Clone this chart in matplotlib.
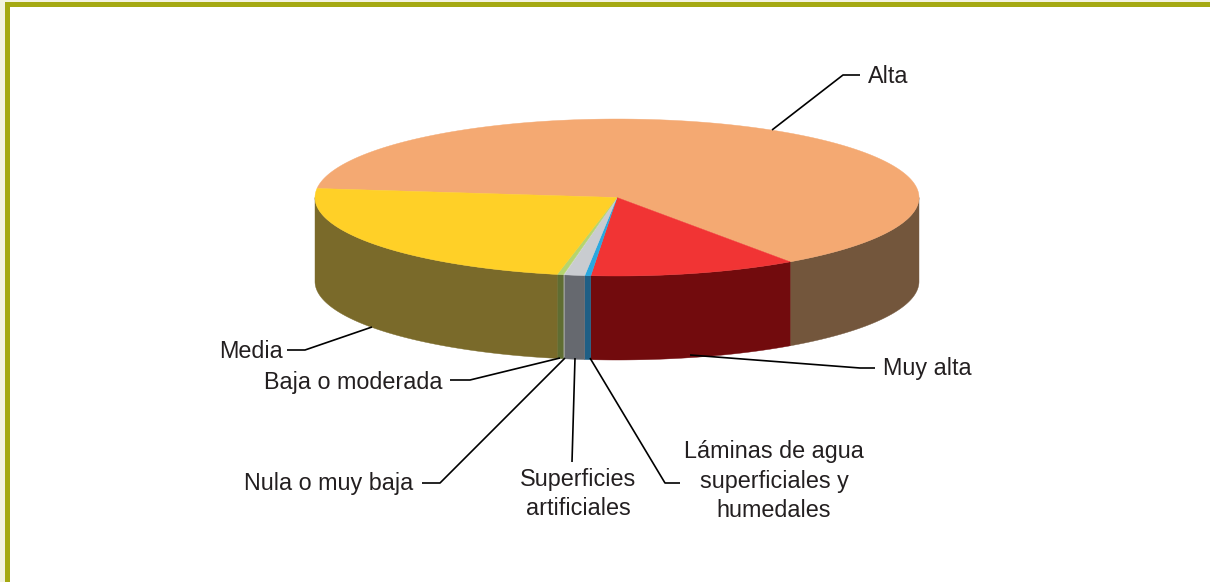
import numpy as np
import matplotlib
matplotlib.use("Agg")
import matplotlib.pyplot as plt
from matplotlib.patches import Polygon, Rectangle

plt.rcParams['font.family'] = ['Liberation Sans', 'DejaVu Sans']

# Clockwise from the Alta slice's end at the left of the pie
categories = ["Alta", "Muy alta", "Láminas de agua superficiales y humedales",
              "Superficies artificiales", "Nula o muy baja", "Baja o moderada", "Media"]
shares = [63.45, 11.10, 0.32, 1.09, 0.05, 0.33, 23.66]
top_colors = ["#f4a972", "#f13434", "#29a8e0", "#c9ccd0", "#d5d8d0", "#b5d56e", "#ffd027"]
side_colors = ["#73563c", "#720b0d", "#1f5f85", "#66696f", "#a8aba4", "#5f6d32", "#7a6a2a"]

CX, CY, RX, RY, DEPTH = 617, 197.5, 302, 78.5, 84
START = 173.4

fig = plt.figure(figsize=(12.10, 5.82), dpi=100)
ax = fig.add_axes([0, 0, 1, 1])
ax.set_xlim(0, 1210)
ax.set_ylim(582, 0)
ax.axis("off")

# Page frame
ax.add_patch(Rectangle((0, 0), 1210, 582, fc="#f3f3e0", ec="none", zorder=0))
ax.add_patch(Rectangle((5, 2), 1205, 580, fc="#a5a912", ec="none", zorder=0.1))
ax.add_patch(Rectangle((10, 7), 1200, 575, fc="white", ec="none", zorder=0.2))


def rim(t):
    r = np.radians(t)
    return CX + RX * np.cos(r), CY - RY * np.sin(r)


angles = START - np.concatenate([[0], np.cumsum(shares)]) / sum(shares) * 360

for a0, a1, side in zip(angles[:-1], angles[1:], side_colors):
    lo, hi = max(a1, -180), min(a0, 0)
    if hi > lo:
        t = np.linspace(hi, lo, 200)
        x, y = rim(t)
        pts = np.r_[np.c_[x, y], np.c_[x[::-1], y[::-1] + DEPTH]]
        ax.add_patch(Polygon(pts, closed=True, fc=side, ec=side, lw=0.3, zorder=2))

for a0, a1, top in zip(angles[:-1], angles[1:], top_colors):
    t = np.linspace(a0, a1, 400)
    x, y = rim(t)
    pts = np.r_[[[CX, CY]], np.c_[x, y]]
    ax.add_patch(Polygon(pts, closed=True, fc=top, ec=top, lw=0.3, zorder=3))

# Leader lines
leaders = [
    ([772, 843, 860], [130, 75, 75]),
    ([372, 305, 287], [327, 350, 350]),
    ([560, 470, 450], [358, 380, 380]),
    ([565, 440, 422], [358, 483, 483]),
    ([575, 572], [358, 462]),
    ([590, 665, 680], [358, 483, 483]),
    ([690, 860, 875], [355, 368, 368]),
]
for lx, ly in leaders:
    ax.plot(lx, ly, color="black", lw=1.2, zorder=4, solid_capstyle="butt")

fs = 16.8
txt = dict(fontsize=fs, color="#231f20", va="center", zorder=5)
ax.text(868, 76.5, "Alta", ha="left", **txt)
ax.text(883, 368.5, "Muy alta", ha="left", **txt)
ax.text(283, 351.5, "Media", ha="right", **txt)
ax.text(443, 382.5, "Baja o moderada", ha="right", **txt)
ax.text(413, 483.5, "Nula o muy baja", ha="right", **txt)
ax.text(578, 479.5, "Superficies", ha="center", **txt)
ax.text(578, 508.5, "artificiales", ha="center", **txt)
ax.text(774, 451.5, "Láminas de agua", ha="center", **txt)
ax.text(774, 481.5, "superficiales y", ha="center", **txt)
ax.text(774, 510.5, "humedales", ha="center", **txt)

fig.savefig("out.png", dpi=100)
